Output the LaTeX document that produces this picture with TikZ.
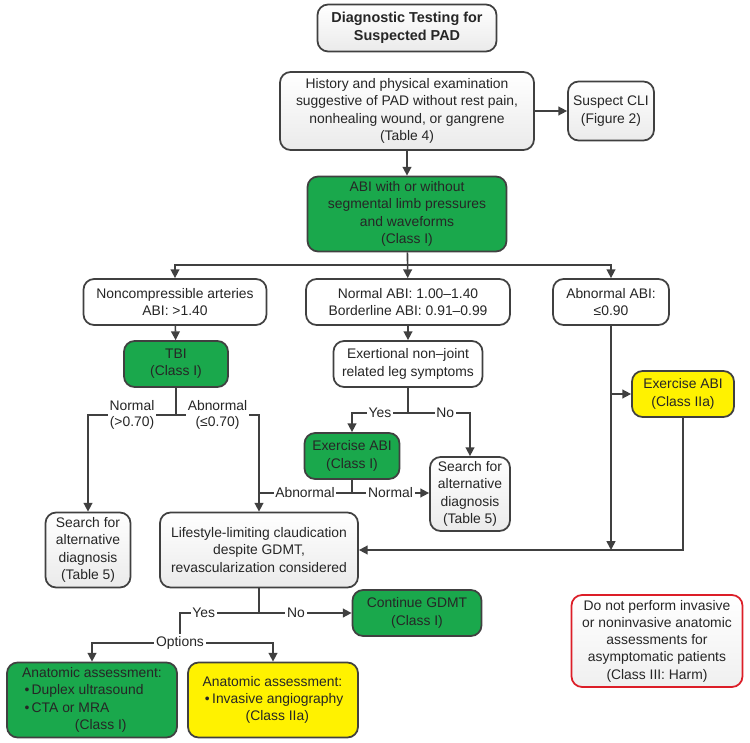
\documentclass[tikz,border=0pt]{standalone}
\usepackage{fontspec}
\setmainfont{Liberation Sans}
\usetikzlibrary{arrows.meta}

\definecolor{linegray}{RGB}{64,64,64}
\definecolor{boxgreen}{RGB}{26,168,76}
\definecolor{boxyellow}{RGB}{255,242,0}
\definecolor{harmred}{RGB}{220,30,40}

\tikzset{
    box/.style={draw=linegray, line width=1pt, rounded corners=6pt, align=center, inner sep=0pt,
        font=\fontsize{7.9}{9.8}\selectfont, text=black!85},
    graybox/.style={box, top color=white, bottom color=gray!16},
    whitebox/.style={box, fill=white},
    greenbox/.style={box, fill=boxgreen},
    yellowbox/.style={box, fill=boxyellow},
    redbox/.style={box, draw=harmred, top color=white, bottom color=gray!12},
    link/.style={draw=linegray, line width=0.9pt},
    arr/.style={link, -{Triangle[length=5pt,width=5pt]}},
    lbl/.style={fill=white, inner sep=1pt, align=center, font=\fontsize{7.9}{9.4}\selectfont, text=black!85}
}

\begin{document}
\begin{tikzpicture}[x=0.02cm, y=-0.02cm]
    \useasboundingbox (0,0) rectangle (750,743);

    % Top of the chart
    \node[graybox, minimum width=3.58cm, minimum height=0.94cm, font=\fontsize{8.2}{10}\selectfont\bfseries] (title) at (407,28) {Diagnostic Testing for\\Suspected PAD};
    \node[graybox, minimum width=5.08cm, minimum height=1.56cm] (history) at (407,111) {History and physical examination\\suggestive of PAD without rest pain,\\nonhealing wound, or gangrene\\(Table 4)};
    \node[graybox, minimum width=1.72cm, minimum height=1.18cm] (cli) at (611,111) {Suspect CLI\\(Figure 2)};
    \node[greenbox, minimum width=3.98cm, minimum height=1.5cm] (abi) at (407,214) {ABI with or without\\segmental limb pressures\\and waveforms\\(Class I)};

    % ABI results
    \node[whitebox, minimum width=3.66cm, minimum height=0.92cm] (noncomp) at (175,302) {Noncompressible arteries\\ABI: >1.40};
    \node[whitebox, minimum width=4.08cm, minimum height=0.92cm] (normabi) at (408,302) {Normal ABI: 1.00–1.40\\Borderline ABI: 0.91–0.99};
    \node[whitebox, minimum width=2.32cm, minimum height=0.92cm] (abnabi) at (611,302) {Abnormal ABI:\\≤0.90};

    % Second tests
    \node[greenbox, minimum width=2.08cm, minimum height=0.92cm] (tbi) at (176,364) {TBI\\(Class I)};
    \node[whitebox, minimum width=2.98cm, minimum height=0.92cm] (exert) at (408,364) {Exertional non–joint\\related leg symptoms};
    \node[yellowbox, minimum width=2.04cm, minimum height=0.92cm] (exyel) at (683,394) {Exercise ABI\\(Class IIa)};
    \node[greenbox, minimum width=1.9cm, minimum height=0.92cm] (exgreen) at (352,456) {Exercise ABI\\(Class I)};
    \node[graybox, minimum width=1.6cm, minimum height=1.48cm] (searchm) at (470,494) {Search for\\alternative\\diagnosis\\(Table 5)};

    % Lower part
    \node[graybox, minimum width=1.7cm, minimum height=1.5cm] (searchl) at (88,550) {Search for\\alternative\\diagnosis\\(Table 5)};
    \node[graybox, minimum width=3.96cm, minimum height=1.5cm] (lifestyle) at (259,550) {Lifestyle-limiting claudication\\despite GDMT,\\revascularization considered};
    \node[greenbox, minimum width=2.58cm, minimum height=0.92cm] (gdmt) at (417,613) {Continue GDMT\\(Class I)};
    \node[redbox, minimum width=3.42cm, minimum height=1.84cm] (harm) at (657,641) {Do not perform invasive\\or noninvasive anatomic\\assessments for\\asymptomatic patients\\(Class III: Harm)};
    \node[lbl] (options) at (180,643) {Options};
    \node[greenbox, minimum width=3.4cm, minimum height=1.5cm, align=left] (anagreen) at (92,700) {Anatomic assessment:\\\,\textbullet\,Duplex ultrasound\\\,\textbullet\,CTA or MRA\\\hspace*{3.8em}(Class I)};
    \node[yellowbox, minimum width=3.4cm, minimum height=1.5cm, align=left] (anayel) at (273,700) {Anatomic assessment:\\\,\textbullet\,Invasive angiography\\\hspace*{3.1em}(Class IIa)};

    % Connectors
    \draw[arr] (history) -- (abi);
    \draw[arr] (history) -- (cli);
    \coordinate (abisplit) at (407,265);
    \draw[arr] (abi) -- (normabi);
    \draw[arr] (abisplit) -| (noncomp.north);
    \draw[arr] (abisplit) -| (abnabi.north);
    \draw[arr] (noncomp) -- (tbi);
    \draw[arr] (normabi) -- (exert);

    % TBI branches
    \coordinate (tbisplit) at (176,415);
    \draw[link] (tbi.south) -- (tbisplit);
    \draw[arr] (tbisplit) -| node[lbl, pos=0.25] {Normal\\(>0.70)} (searchl.north);
    \draw[arr] (tbisplit) -| node[lbl, pos=0.25] {Abnormal\\(≤0.70)} (lifestyle.north);

    % Exertional symptoms
    \coordinate (exsplit) at (408,413);
    \draw[link] (exert.south) -- (exsplit);
    \draw[arr] (exsplit) -| node[lbl, pos=0.25] {Yes} (exgreen.north);
    \draw[arr] (exsplit) -| node[lbl, pos=0.3] {No} (searchm.north);
    \coordinate (exgsplit) at (352,493);
    \coordinate (abnjoin) at (258,493);
    \draw[link] (exgreen.south) -- (exgsplit);
    \draw[link] (exgsplit) -- node[lbl] {Abnormal} (abnjoin);
    \draw[arr] (exgsplit) -- node[lbl] {Normal} (exgsplit -| searchm.west);

    % Abnormal ABI
    \coordinate (merge) at (abnabi.south |- lifestyle.east);
    \draw[arr] (abnabi.south) -- (merge);
    \draw[arr] (abnabi.south |- exyel.west) -- (exyel.west);
    \draw[arr] (exyel.south) |- (lifestyle.east);

    % Lifestyle-limiting claudication
    \coordinate (lssplit) at (259,613);
    \draw[link] (lifestyle.south) -- (lssplit);
    \draw[arr] (lssplit) -- node[lbl, pos=0.4] {No} (gdmt.west);
    \draw[link] (lssplit) -| node[lbl, pos=0.35] {Yes} (options.north);
    \draw[arr] (options.west) -| (anagreen.north);
    \draw[arr] (options.east) -| (anayel.north);
\end{tikzpicture}
\end{document}
